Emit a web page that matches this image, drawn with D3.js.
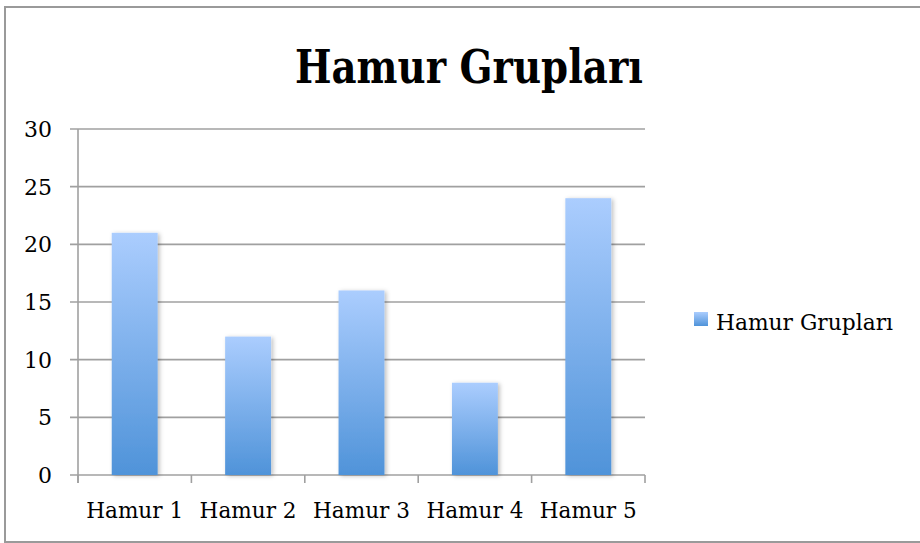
<!DOCTYPE html>
<html><head><meta charset="utf-8">
<script src="https://cdn.jsdelivr.net/npm/d3@7"></script>
<style>body{margin:0;background:#fff}svg{display:block}</style>
</head><body>
<script>
const categories = ["Hamur 1","Hamur 2","Hamur 3","Hamur 4","Hamur 5"];
const values = [21, 12, 16, 8, 24];
const yTicks = [0, 5, 10, 15, 20, 25, 30];
const seriesName = "Hamur Grupları";
const title = "Hamur Grupları";

const W = 920, H = 543;
const svg = d3.select("body").append("svg").attr("width", W).attr("height", H);
const font = "'DejaVu Serif', serif";

const defs = svg.append("defs");
const grad = defs.append("linearGradient").attr("id","barGrad").attr("x1",0).attr("y1",0).attr("x2",0).attr("y2",1);
grad.append("stop").attr("offset","0%").attr("stop-color","#abcdfe");
grad.append("stop").attr("offset","100%").attr("stop-color","#4f93d9");
const lgrad = defs.append("linearGradient").attr("id","legGrad").attr("x1",0).attr("y1",0).attr("x2",0).attr("y2",1);
lgrad.append("stop").attr("offset","0%").attr("stop-color","#abcdfe");
lgrad.append("stop").attr("offset","100%").attr("stop-color","#4f93d9");
const filt = defs.append("filter").attr("id","shadow").attr("x","-20%").attr("y","-10%").attr("width","150%").attr("height","120%");
filt.append("feDropShadow").attr("dx",2).attr("dy",1).attr("stdDeviation",2).attr("flood-color","#000").attr("flood-opacity",0.25);

// frame
svg.append("rect").attr("x",5).attr("y",7).attr("width",W).attr("height",535)
  .attr("fill","#fff").attr("stroke","#9a9a9a").attr("stroke-width",2);

const pLeft = 78, pRight = 645, pTop = 129, pBottom = 475;
const x = d3.scaleBand().domain(categories).range([pLeft, pRight]).paddingInner(0.595).paddingOuter(0.2975);
const y = d3.scaleLinear().domain([0, 30]).range([pBottom, pTop]);

// gridlines
svg.append("g").selectAll("line").data(yTicks).join("line")
  .attr("x1", 70).attr("x2", pRight).attr("y1", d => y(d)).attr("y2", d => y(d))
  .attr("stroke","#a0a0a0").attr("stroke-width",1.6);

// y axis line
svg.append("line").attr("x1",pLeft).attr("x2",pLeft).attr("y1",pTop).attr("y2",pBottom+8)
  .attr("stroke","#a0a0a0").attr("stroke-width",1.6);

// x ticks at band boundaries
const boundaries = d3.range(categories.length + 1).map(i => pLeft + i * (pRight - pLeft) / categories.length);
svg.append("g").selectAll("line").data(boundaries).join("line")
  .attr("x1", d => d).attr("x2", d => d).attr("y1", pBottom).attr("y2", pBottom + 8)
  .attr("stroke","#a0a0a0").attr("stroke-width",1.6);

// bars
svg.append("g").selectAll("rect").data(values).join("rect")
  .attr("x", (d,i) => x(categories[i]))
  .attr("width", x.bandwidth())
  .attr("y", d => y(d))
  .attr("height", d => y(0) - y(d))
  .attr("fill","url(#barGrad)")
  .attr("filter","url(#shadow)");

// y labels
svg.append("g").selectAll("text").data(yTicks).join("text")
  .attr("x", 52).attr("y", d => y(d)).attr("dy","0.36em")
  .attr("text-anchor","end").attr("font-family",font).attr("font-size",22).attr("fill","#000")
  .text(d => d);

// x labels
svg.append("g").selectAll("text").data(categories).join("text")
  .attr("x", d => x(d) + x.bandwidth()/2).attr("y", 518)
  .attr("text-anchor","middle").attr("font-family",font).attr("font-size",22).attr("fill","#000")
  .attr("textLength",97).attr("lengthAdjust","spacingAndGlyphs")
  .text(d => d);

// title
svg.append("text").attr("x",469).attr("y",83).attr("text-anchor","middle")
  .attr("font-family",font).attr("font-weight","bold").attr("font-size",46).attr("fill","#000")
  .attr("textLength",348).attr("lengthAdjust","spacingAndGlyphs")
  .text(title);

// legend
svg.append("rect").attr("x",694).attr("y",312).attr("width",14).attr("height",14).attr("fill","url(#legGrad)");
svg.append("text").attr("x",716).attr("y",330).attr("font-family",font).attr("font-size",22).attr("fill","#000")
  .attr("textLength",177).attr("lengthAdjust","spacingAndGlyphs")
  .text(seriesName);
</script>
</body></html>
